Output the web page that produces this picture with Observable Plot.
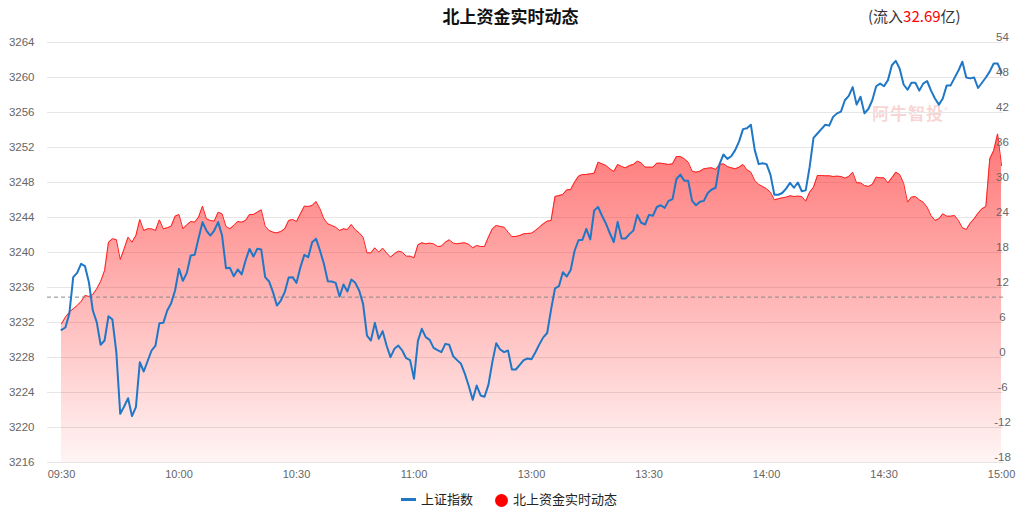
<!DOCTYPE html>
<html><head><meta charset="utf-8">
<script src="https://cdn.jsdelivr.net/npm/d3@7"></script>
<script src="https://cdn.jsdelivr.net/npm/@observablehq/plot@0.6"></script>
<style>
body{margin:0;background:#fff;font-family:"Noto Sans CJK SC","Noto Sans",sans-serif;}
#wrap{position:relative;width:1021px;height:518px;overflow:hidden;background:#fff;}
#title{position:absolute;left:0;top:0;width:1021px;height:30px;text-align:center;font-weight:bold;font-size:17px;line-height:32px;color:#111;}
#flow{position:absolute;left:868px;top:0;font-size:15px;line-height:32px;color:#333;}
#flow span{color:#ff0000;}
#chart{position:absolute;left:0;top:30px;z-index:1;}
#wm{position:absolute;left:872px;top:100px;font-size:17px;font-weight:bold;color:rgba(236,120,120,0.32);z-index:0;letter-spacing:1px;}
#wm sup{font-size:8px;font-weight:normal;}
.lg{position:absolute;font-size:13px;color:#222;line-height:20px;}
</style></head>
<body>
<div id="wrap">
  <div id="title">北上资金实时动态</div>
  <div id="flow">(流入<span>32.69</span>亿)</div>
  <div id="wm">阿牛智投<sup>®</sup></div>
  <div id="chart"></div>
  <div class="lg" style="left:401px;top:498px;width:15px;height:3px;background:#1f77c6;"></div>
  <div class="lg" style="left:421px;top:489px;">上证指数</div>
  <div class="lg" style="left:495px;top:494px;width:13px;height:13px;border-radius:50%;background:#ff0000;"></div>
  <div class="lg" style="left:513px;top:489px;">北上资金实时动态</div>
</div>
<script>
// ---- data ----
const xTickPos = [0, 30, 60, 90, 120, 150, 180, 210, 240];
const xTickLabels = ["09:30", "10:00", "10:30", "11:00", "13:00", "13:30", "14:00", "14:30", "15:00"];
const leftTicks = [3216, 3220, 3224, 3228, 3232, 3236, 3240, 3244, 3248, 3252, 3256, 3260, 3264];
const rightTicks = [-18, -12, -6, 0, 6, 12, 18, 24, 30, 36, 42, 48, 54];
const prevClose = 3234.9;
// 上证指数 (minute values 09:30 .. 15:00)
const indexValues = [
  3231.16, 3231.43, 3232.99, 3237.18, 3237.67, 3238.70, 3238.44, 3236.61, 3233.37, 3232.04,
  3229.45, 3229.94, 3232.72, 3232.34, 3228.61, 3221.56, 3222.4, 3223.35, 3221.30, 3222.32,
  3227.47, 3226.40, 3227.6, 3228.80, 3229.37, 3231.92, 3231.96, 3233.37, 3234.21, 3235.66,
  3238.13, 3236.76, 3237.67, 3239.66, 3239.73, 3241.64, 3243.47, 3242.51, 3241.94, 3242.51,
  3243.47, 3241.94, 3238.21, 3238.25, 3237.29, 3238.06, 3237.49, 3239.09, 3240.42, 3239.54,
  3240.42, 3240.34, 3237.18, 3236.69, 3235.47, 3233.94, 3234.51, 3235.47, 3237.14, 3237.18,
  3236.53, 3238.32, 3239.73, 3239.47, 3241.18, 3241.56, 3240.23, 3238.70, 3236.72, 3236.69,
  3236.53, 3234.97, 3236.34, 3235.54, 3236.91, 3236.53, 3235.66, 3234.13, 3230.51, 3229.94,
  3231.96, 3230.13, 3231.01, 3229.37, 3228.04, 3228.99, 3229.37, 3228.80, 3227.92, 3227.70,
  3225.56, 3229.90, 3231.28, 3230.32, 3230.02, 3229.10, 3228.84, 3228.61, 3229.56, 3229.45,
  3228.15, 3227.70, 3227.28, 3226.13, 3224.72, 3223.16, 3224.80, 3223.66, 3223.51, 3224.87,
  3227.47, 3229.64, 3228.91, 3228.61, 3228.80, 3226.63, 3226.63, 3227.16, 3227.70, 3227.89,
  3227.81, 3228.6, 3229.5, 3230.3, 3230.8, 3233.5, 3235.9, 3236.15, 3237.75, 3237.26,
  3238.0, 3240.2, 3241.4, 3241.45, 3242.7, 3241.5, 3244.8, 3245.2, 3244.2, 3243.3,
  3242.2, 3241.2, 3243.5, 3241.6, 3241.6, 3242.1, 3242.5, 3244.3, 3243.4, 3243.2,
  3244.3, 3244.2, 3245.2, 3245.4, 3245.1, 3245.9, 3246.1, 3248.4, 3248.9, 3248.2,
  3248.2, 3245.9, 3245.4, 3245.8, 3245.9, 3246.8, 3247.2, 3247.4, 3250.1, 3251.2,
  3250.7, 3251.0, 3251.7, 3252.7, 3254.1, 3254.2, 3254.6, 3251.7, 3250.1, 3250.2,
  3250.1, 3248.9, 3246.6, 3246.6, 3246.8, 3247.3, 3247.96, 3247.4, 3248.0, 3247.0,
  3247.1, 3249.75, 3253.1, 3253.6, 3254.1, 3254.6, 3254.5, 3255.5, 3255.9, 3256.1,
  3257.4, 3257.9, 3258.9, 3256.9, 3257.8, 3255.9, 3256.4, 3257.4, 3259.0, 3259.3,
  3259.0, 3259.7, 3261.4, 3261.9, 3261.0, 3259.2, 3258.6, 3259.4, 3259.4, 3258.5,
  3259.3, 3259.6, 3258.5, 3257.6, 3256.9, 3257.6, 3259.1, 3259.1,
  3259.96, 3260.8, 3261.8, 3260.0, 3259.9, 3260.0, 3258.8, 3259.4, 3260.0, 3260.7,
  3261.6, 3261.6, 3260.6
];
// 北上资金实时动态 (亿, right axis)
const flowValues = [
  5.77, 6.91, 7.77, 8.34, 8.91, 9.60, 10.63, 10.46, 10.80, 11.77,
  13.03, 14.91, 19.77, 20.34, 20.23, 16.80, 18.63, 20.63, 19.77, 20.91,
  23.66, 21.77, 22.06, 22.06, 21.77, 23.60, 22.06, 22.23, 22.51, 24.23,
  24.51, 22.06, 22.74, 23.31, 23.20, 24.06, 25.94, 23.77, 23.49, 23.37,
  24.91, 24.63, 22.46, 22.06, 22.63, 23.31, 23.20, 23.49, 24.51, 24.51,
  24.91, 25.31, 22.51, 21.77, 21.49, 21.37, 21.60, 22.06, 23.49, 23.66,
  23.31, 24.63, 25.94, 25.89, 26.06, 26.74, 25.49, 23.77, 22.91, 22.63,
  22.34, 21.77, 22.06, 21.94, 22.80, 21.89, 21.37, 20.63, 17.94, 17.94,
  18.80, 18.06, 18.74, 17.94, 17.20, 17.77, 18.23, 18.06, 17.37, 17.37,
  17.08, 19.31, 19.66, 19.49, 19.60, 19.49, 19.03, 19.09, 19.77, 20.17,
  19.60, 19.49, 19.60, 19.66, 19.37, 18.80, 19.20, 19.03, 19.03, 20.63,
  22.06, 22.63, 22.46, 22.34, 21.49, 20.74, 20.74, 20.91, 21.20, 21.26,
  21.31, 21.77, 22.34, 22.91, 23.37, 23.49, 27.6, 27.77, 27.94, 28.74,
  28.8, 30.06, 31.09, 31.37, 31.37, 31.49, 31.6, 33.49, 33.2, 32.91,
  32.34, 31.89, 33.09, 32.74, 32.51, 32.91, 33.09, 33.66, 33.37, 32.63,
  32.63, 32.63, 33.31, 33.31, 33.2, 33.09, 33.2, 34.46, 34.46, 34.06,
  33.49, 31.94, 31.77, 31.94, 32.34, 32.46, 32.52, 32.23, 33.09, 33.2,
  32.75, 32.52, 32.34, 32.63, 33.09, 32.17, 31.77, 30.34, 29.66, 29.32,
  28.92, 28.34, 27.03, 27.2, 27.37, 27.49, 27.72, 27.6, 27.66, 27.6,
  26.8, 28.34, 29.2, 31.2, 31.2, 31.15, 31.15, 31.03, 31.09, 31.03,
  30.75, 31.03, 31.77, 29.94, 29.94, 29.49, 29.32, 29.66, 30.92, 30.8,
  30.8,
  29.94, 30.8, 31.77, 31.37, 29.89, 26.63, 27.49, 27.6, 27.03, 26.63,
  25.77, 24.34, 23.49, 23.77, 24.63, 24.23, 24.23, 24.34, 23.49, 22.23,
  21.94, 23.03, 23.77, 24.75, 25.49, 25.89, 34.06, 35.49, 38.34, 32.9
];

// right axis (-18..54) mapped onto left axis (3216..3264)
const conv = r => 3216 + (r + 18) * 48 / 72;
const data = indexValues.map((v, i) => ({t: i, v, rl: conv(flowValues[i])}));

const font = '"Liberation Sans","Noto Sans CJK SC",sans-serif';
const chart = Plot.plot({
  width: 1021, height: 460,
  marginTop: 12, marginBottom: 28, marginLeft: 47, marginRight: 18,
  x: {domain: [-3.57, 240.5], axis: null},
  y: {domain: [3216, 3264], axis: null},
  style: {fontFamily: font, fontSize: "11px", color: "#666", background: "transparent"},
  marks: [
    Plot.ruleY(leftTicks, {stroke: "#e6e6e6", strokeWidth: 1}),
    Plot.areaY(data, {x: "t", y1: 3216, y2: "rl", fill: "url(#flowGrad)"}),
    Plot.lineY(data, {x: "t", y: "rl", stroke: "#ff1f1f", strokeWidth: 1}),
    Plot.ruleY([prevClose], {stroke: "#8a8a8a", strokeDasharray: "4,3", strokeWidth: 1}),
    Plot.lineY(data, {x: "t", y: "v", stroke: "#1f77c6", strokeWidth: 2}),
    Plot.axisY({ticks: leftTicks, tickSize: 0, tickPadding: 13, tickFormat: d => String(d), label: null, fill: "#666", fontSize: 11.5}),
    Plot.text(rightTicks, {y: d => conv(d), text: d => String(d), frameAnchor: "right", textAnchor: "middle", dx: -1, dy: -5, fill: "#666", fontSize: 11.5}),
    Plot.axisX({ticks: xTickPos, tickSize: 0, tickPadding: 8, tickFormat: (d) => xTickLabels[xTickPos.indexOf(d)], label: null, fill: "#666"})
  ]
});
const svg = d3.select(chart);
const grad = svg.insert("defs", ":first-child").append("linearGradient")
  .attr("id", "flowGrad").attr("x1", 0).attr("y1", 0).attr("x2", 0).attr("y2", 1);
grad.append("stop").attr("offset", "0%").attr("stop-color", "#ff2a2a").attr("stop-opacity", 0.64);
grad.append("stop").attr("offset", "100%").attr("stop-color", "#ff2a2a").attr("stop-opacity", 0.05);
document.getElementById("chart").appendChild(chart);
</script>
</body></html>
